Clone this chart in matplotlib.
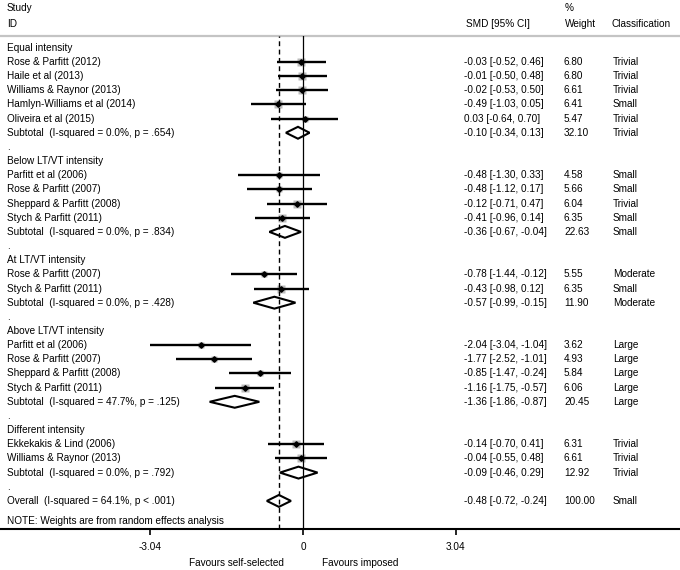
import matplotlib
matplotlib.use("Agg")
import matplotlib.pyplot as plt
from matplotlib.transforms import blended_transform_factory
from matplotlib.patches import Polygon

# data
groups = ["Equal intensity", "Below LT/VT intensity", "At LT/VT intensity",
          "Above LT/VT intensity", "Different intensity"]
group_sizes = [5, 4, 2, 4, 2]

study_names = ["Rose & Parfitt (2012)", "Haile et al (2013)", "Williams & Raynor (2013)",
               "Hamlyn-Williams et al (2014)", "Oliveira et al (2015)",
               "Parfitt et al (2006)", "Rose & Parfitt (2007)", "Sheppard & Parfitt (2008)",
               "Stych & Parfitt (2011)",
               "Rose & Parfitt (2007)", "Stych & Parfitt (2011)",
               "Parfitt et al (2006)", "Rose & Parfitt (2007)", "Sheppard & Parfitt (2008)",
               "Stych & Parfitt (2011)",
               "Ekkekakis & Lind (2006)", "Williams & Raynor (2013)"]
study_smd = [-0.03, -0.01, -0.02, -0.49, 0.03,
             -0.48, -0.48, -0.12, -0.41,
             -0.78, -0.43,
             -2.04, -1.77, -0.85, -1.16,
             -0.14, -0.04]
study_lo = [-0.52, -0.50, -0.53, -1.03, -0.64,
            -1.30, -1.12, -0.71, -0.96,
            -1.44, -0.98,
            -3.04, -2.52, -1.47, -1.75,
            -0.70, -0.55]
study_hi = [0.46, 0.48, 0.50, 0.05, 0.70,
            0.33, 0.17, 0.47, 0.14,
            -0.12, 0.12,
            -1.04, -1.01, -0.24, -0.57,
            0.41, 0.48]
study_weight = [6.80, 6.80, 6.61, 6.41, 5.47,
                4.58, 5.66, 6.04, 6.35,
                5.55, 6.35,
                3.62, 4.93, 5.84, 6.06,
                6.31, 6.61]
study_class = ["Trivial", "Trivial", "Trivial", "Small", "Trivial",
               "Small", "Small", "Trivial", "Small",
               "Moderate", "Small",
               "Large", "Large", "Large", "Large",
               "Trivial", "Trivial"]

sub_het = ["(I-squared = 0.0%, p = .654)", "(I-squared = 0.0%, p = .834)",
           "(I-squared = 0.0%, p = .428)", "(I-squared = 47.7%, p = .125)",
           "(I-squared = 0.0%, p = .792)"]
sub_smd = [-0.10, -0.36, -0.57, -1.36, -0.09]
sub_lo = [-0.34, -0.67, -0.99, -1.86, -0.46]
sub_hi = [0.13, -0.04, -0.15, -0.87, 0.29]
sub_weight = [32.10, 22.63, 11.90, 20.45, 12.92]
sub_class = ["Trivial", "Small", "Moderate", "Large", "Trivial"]

overall_het = "(I-squared = 64.1%, p < .001)"
overall_smd, overall_lo, overall_hi, overall_weight = -0.48, -0.72, -0.24, 100.00
overall_class = "Small"

ticks = [-3.04, 0, 3.04]

W, H = 680, 570
FS = 7.2
plt.rcParams['font.family'] = ['Liberation Sans', 'DejaVu Sans']
plt.rcParams['font.size'] = FS

fig = plt.figure(figsize=(W / 100, H / 100), dpi=100)
# axis: x=0 at px 303, 50.2 px per unit; rows 14.16 px apart, row 0 at px 47.8
px0, ppu = 303, 50.2
top_px, bot_px = 36, 528.5
row0, rstep = 47.8, 14.16
ax = fig.add_axes([0, (H - bot_px) / H, 1, (bot_px - top_px) / H])
ax.set_xlim(-px0 / ppu, (W - px0) / ppu)
ax.set_ylim((bot_px - row0) / rstep, (top_px - row0) / rstep)

for s in ["left", "right"]:
    ax.spines[s].set_visible(False)
ax.spines["top"].set_color("#c4c4c4")
ax.spines["top"].set_linewidth(1.6)
ax.spines["bottom"].set_linewidth(1.5)
ax.set_yticks([])
ax.set_xticks(ticks)
ax.set_xticklabels(["-3.04", "0", "3.04"])
ax.tick_params(axis="x", length=4.5, width=1.2, pad=5, labelsize=FS)

tr = blended_transform_factory(fig.transFigure, ax.transData)
x_lab, x_smd, x_w, x_cls = 7 / W, 464 / W, 564 / W, 613 / W


def row_text(y, label, smd=None, lo=None, hi=None, w=None, cls=None):
    ax.text(x_lab, y, label, transform=tr, va="center", ha="left")
    if smd is not None:
        ax.text(x_smd, y, f"{smd:.2f} [{lo:.2f}, {hi:.2f}]", transform=tr, va="center")
        ax.text(x_w, y, f"{w:.2f}", transform=tr, va="center")
        ax.text(x_cls, y, cls, transform=tr, va="center")


def diamond(y, m, lo, hi):
    ax.add_patch(Polygon([(lo, y), (m, y - 0.42), (hi, y), (m, y + 0.42)],
                         closed=True, fc="white", ec="black", lw=1.5, zorder=3))


row = 0
k = 0
for g, name in enumerate(groups):
    row_text(row, name)
    row += 1
    for _ in range(group_sizes[g]):
        ax.plot(study_smd[k], row, marker="s", ms=5.4 * (study_weight[k] / 6.8) ** 0.5,
                color="#bcbcbc", mec="none", zorder=2)
        ax.plot([study_lo[k], study_hi[k]], [row, row], color="black", lw=1.7, zorder=3,
                solid_capstyle="butt")
        ax.plot(study_smd[k], row, marker="D", ms=2.8, color="black", zorder=4)
        row_text(row, study_names[k], study_smd[k], study_lo[k], study_hi[k],
                 study_weight[k], study_class[k])
        row += 1
        k += 1
    diamond(row, sub_smd[g], sub_lo[g], sub_hi[g])
    row_text(row, "Subtotal  " + sub_het[g], sub_smd[g], sub_lo[g], sub_hi[g],
             sub_weight[g], sub_class[g])
    row += 1
    row_text(row, ".")
    row += 1

diamond(row, overall_smd, overall_lo, overall_hi)
row_text(row, "Overall  " + overall_het, overall_smd, overall_lo, overall_hi,
         overall_weight, overall_class)
ax.text(x_lab, row + 1.42, "NOTE: Weights are from random effects analysis",
        transform=tr, va="center")

ax.axvline(0, color="black", lw=0.9, zorder=5)
ax.axvline(overall_smd, color="black", lw=1.0, ls=(0, (3.5, 2.5)), zorder=5)

# headers
def ftext(x, y, s, **kw):
    fig.text(x / W, 1 - y / H, s, va="center", **kw)

ftext(7, 8, "Study")
ftext(7, 24, "ID")
ftext(466, 24, "SMD [95% CI]")
ftext(565, 8, "%")
ftext(565, 24, "Weight")
ftext(612, 24, "Classification")
ftext(284, 563, "Favours self-selected", ha="right")
ftext(322, 563, "Favours imposed", ha="left")

fig.savefig("out.png", dpi=100)
